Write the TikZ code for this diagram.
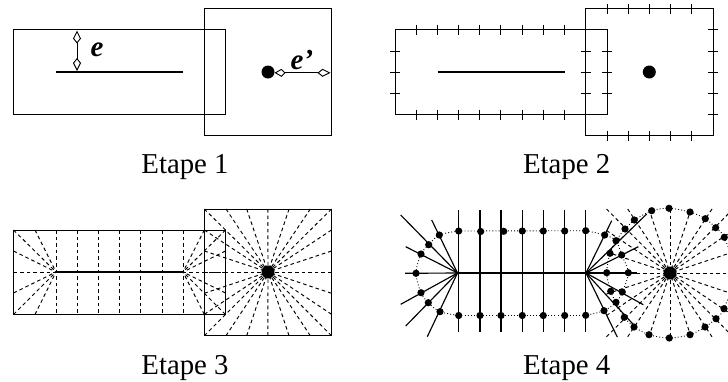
\documentclass[tikz,border=0pt]{standalone}
\usepackage{fontspec}
\setmainfont{Liberation Serif}
\usetikzlibrary{arrows.meta}
\tikzset{
  thin line/.style={line width=1pt,black},
  seg/.style={line width=2.3pt,black},
  ray/.style={line width=0.95pt,black,dash pattern=on 3.6pt off 3pt},
  solidray/.style={line width=1.15pt,black},
  contour/.style={line width=0.9pt,black,dash pattern=on 0.9pt off 2.2pt},
  tickline/.style={line width=1pt,black},
  bigdot/.style={circle,fill=black,inner sep=0pt,minimum size=13pt},
  caption/.style={font=\fontsize{28.8}{30}\selectfont,anchor=base,inner sep=0pt},
  lab/.style={font=\fontsize{29}{31}\selectfont\bfseries\itshape,inner sep=0pt},
  kitearrow/.style={line width=0.9pt,black,{Kite[open,fill=white,length=13pt,width=8pt,inset=5pt]}-{Kite[open,fill=white,length=13pt,width=8pt,inset=5pt]}}
}
\begin{document}
\begin{tikzpicture}[x=1pt,y=-1pt]
\useasboundingbox (0,0) rectangle (728,381);
\clip (0,0) rectangle (728,381);
% ---------- Etape 1
\draw[thin line] (13.5,29.5) rectangle (225.5,114.5);
\draw[thin line] (204.3,8.5) rectangle (331.5,135.5);
\coordinate (s1a) at (56,72); \coordinate (s1b) at (183,72);
\draw[seg] (s1a) -- (s1b);
\node[bigdot] (d1) at (268,72) {};
\coordinate (ea) at (77,30.5); \coordinate (eb) at (77,71);
\draw[kitearrow] (ea) -- (eb);
\coordinate (fa) at (274.5,72.8); \coordinate (fb) at (330.5,72.8);
\draw[kitearrow,{Kite[open,fill=white,length=11pt,width=8pt,inset=4pt]}-{Kite[open,fill=white,length=13pt,width=8pt,inset=5pt]}] (fa) -- (fb);
\node[lab] (e) at (97,50) {e};
\node[lab] (ep) at (302,60) {e’};
\node[caption] (c1) at (185,173) {Etape 1};
% ---------- Etape 2
\draw[thin line] (395,29.5) rectangle (607,114.5);
\draw[thin line] (585.5,8.5) rectangle (713,135.5);
\coordinate (s2a) at (437.5,72); \coordinate (s2b) at (564.5,72);
\draw[seg] (s2a) -- (s2b);
\node[bigdot] (d2) at (649.3,72) {};
\foreach \x in {416,437.2,458.4,479.6,500.8,522,543.2,564.4}{
  \draw[tickline] (\x,24.5) -- (\x,34.5);
  \draw[tickline] (\x,109.5) -- (\x,119.5);
}
\foreach \y in {51,72,93}{
  \draw[tickline] (390,\y) -- (400,\y);
  \draw[tickline] (580.5,\y) -- (590.5,\y);
  \draw[tickline] (602,\y) -- (612,\y);
}
\foreach \x in {607,628,649.2,670.4,691.5}{
  \draw[tickline] (\x,3.5) -- (\x,13.5);
  \draw[tickline] (\x,130.5) -- (\x,140.5);
}
\foreach \y in {29.5,51,72,93,114.5}{
  \draw[tickline] (708,\y) -- (718,\y);
}
\node[caption] (c2) at (566.7,173) {Etape 2};
% ---------- Etape 3
\draw[thin line] (13.5,230) rectangle (225.5,314.5);
\draw[thin line] (204.3,209) rectangle (331.5,335.7);
\coordinate (s3a) at (56,272); \coordinate (s3b) at (183,272);
\coordinate (c3) at (268,272);
\foreach \x/\y in {13.5/230,35/230,13.5/251,13.5/272,13.5/293,13.5/314.5,35/314.5}{
  \draw[ray] (\x,\y) -- (s3a);
}
\foreach \x/\y in {204.3/230,225.5/230,225.5/251,225.5/272,225.5/293,225.5/314.5,204.3/314.5}{
  \draw[ray] (\x,\y) -- (s3b);
}
\foreach \x in {56,77.2,98.4,119.6,140.8,162,183.2}{
  \draw[ray] (\x,230) -- (\x,314.5);
}
\foreach \x in {204.3,226,246.7,267.9,289,310.3,331.5}{
  \draw[ray] (\x,209) -- (c3);
  \draw[ray] (\x,335.7) -- (c3);
}
\foreach \y in {230,251,272,293.3,314.3}{
  \draw[ray] (204.3,\y) -- (c3);
  \draw[ray] (331.5,\y) -- (c3);
}
\draw[seg] (s3a) -- (s3b);
\node[bigdot] (d3) at (c3) {};
\node[caption] (c3t) at (185,374.5) {Etape 3};
% ---------- Etape 4
\coordinate (A) at (457.5,273); \coordinate (B) at (586,273); \coordinate (C) at (670,273);
\foreach \x in {606.5,627.7,649,670,691,712,733}{
  \draw[ray] (\x,209) -- (C);
  \draw[ray] (\x,336.8) -- (C);
}
\foreach \y in {230.5,252,273,294,315.5}{
  \draw[ray] (733,\y) -- (C);
}
\foreach \y in {230.5,252,294,315.5}{
  \draw[ray] (606.5,\y) -- (C);
}
\draw[ray] (636.7,273) -- (C);
\foreach \x/\y in {431.7/220,400.7/215,405.7/246.7,405/273.3,400.7/304.3,405.7/326,427.3/336.7,
   611.7/220.7,638.3/246.7,646.7/214,636.7/273,643.3/304.7,635/326.3,617.3/337}{
  \draw[solidray] (\x,\y) -- (\ifdim\x pt<500pt A\else B\fi);
}
\foreach \x in {458.7,480,501,522.3,543.3,564.7,585.7}{
  \draw[solidray] (\x,210) -- (\x,331.7);
}
\draw[seg] (A) -- (B);
% contours
\draw[contour] plot[smooth] coordinates {(458.3,231) (439.3,235) (428.7,244.7) (421,254) (416,273.3) (421,292.7) (428.3,302.7) (440,311.7) (458.3,315.3)};
\draw[contour] (458.3,231) -- (585.7,230.7);
\draw[contour] (458.3,315.5) -- (585.7,315.5);
\draw[contour] plot[smooth] coordinates {(585.7,230.7) (604.7,235) (616,240.7) (621.7,255) (628.3,272.7) (622.3,292) (616,302.3) (604,310.7) (585.7,315.3)};
\draw[contour] plot[smooth] coordinates {(634.3,220) (625,229) (616,240.7) (610,253.3) (606.7,272.7) (610.7,291.3) (616,302.3) (624.3,317.3) (634,327)};
\draw[contour] plot[smooth] coordinates {(634.3,220) (651.7,210.7) (669,208.3) (690,212) (705.3,218.7) (715.7,227.7) (724.3,237.3) (735,273) (724,308.7) (716,318.7) (705,327) (690,334.7) (669.3,338) (649,334.7) (634,327)};
% dots
\foreach \x/\y in {458.7/231,480.7/231.5,503.7/231.3,522.3/231,543.3/231,564.7/231,585.7/230.7,
   439.3/235,428.7/244.7,421/254,416/273.3,421/292.7,428.3/302.7,440/311.7,
   458.7/315.5,480/315.5,501/315.5,522.3/315.5,543.3/315.5,564.7/315.5,585.7/315.3,
   604.7/235,625/229,616/240.7,610/253.3,621.7/255,634.3/220,651.7/210.7,669/208.3,690/212,705.3/218.7,715.7/227.7,724.3/237.3,606.7/272.7,628.3/272.7,
   610.7/291.3,622.3/292,616/302.3,604/310.7,624.3/317.3,634/327,649/334.7,669.3/338,690/334.7,705/327,716/318.7,724/308.7}{
  \fill (\x,\y) circle[radius=3.6];
}
\node[bigdot] (d4) at (C) {};
\node[caption] (c4) at (566.7,374.5) {Etape 4};
\end{tikzpicture}
\end{document}
